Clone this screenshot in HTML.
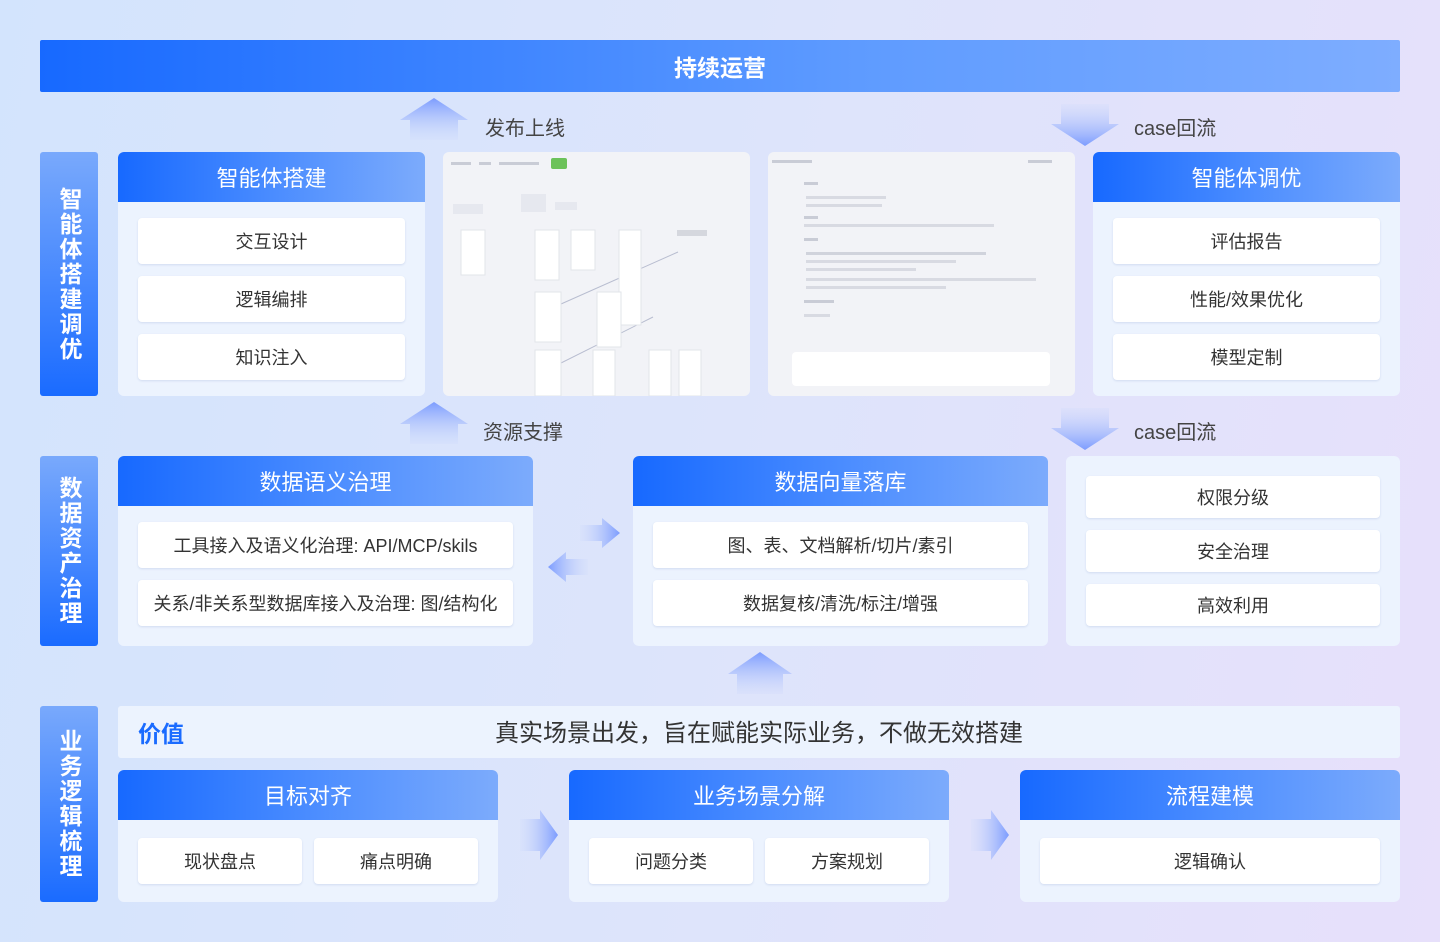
<!DOCTYPE html>
<html><head><meta charset="utf-8"><style>
*{margin:0;padding:0;box-sizing:border-box}
body{width:1440px;height:942px;overflow:hidden;font-family:"Liberation Sans","Noto Sans CJK SC",sans-serif;background:linear-gradient(100deg,#d3e4fd 0%,#dde4fb 50%,#e7e0fb 100%);position:relative}
.a{position:absolute}
.top{left:40px;top:40px;width:1360px;height:52px;background:linear-gradient(90deg,#1769ff,#5e9bff 60%,#7eadff);color:#fff;font-size:23px;font-weight:bold;text-align:center;line-height:56px;border-radius:2px}
.side{left:40px;width:58px;background:linear-gradient(180deg,#79a9fc,#1a6bff);border-radius:3px;color:#fff;font-size:23px;font-weight:bold;display:flex;align-items:center;justify-content:center;writing-mode:vertical-rl;text-orientation:upright;letter-spacing:2px}
.card{background:#ecf3fe;border-radius:6px;overflow:hidden}
.hd{height:50px;background:linear-gradient(90deg,#1769ff,#4a8cff 50%,#7cabfc);color:#fff;font-size:22px;text-align:center;line-height:54px}
.it{position:absolute;background:#fff;border-radius:4px;box-shadow:0 1px 2px rgba(60,90,160,.15);text-align:center;font-size:18px;color:#333;height:46px;line-height:48px;overflow:hidden}
.lbl{font-size:20px;color:#444}
.shot{background:#f2f3f7;border-radius:6px;overflow:hidden}
.bar{position:absolute;background:#c9ccd6;height:3px}
</style></head><body>
<div class="a top">持续运营</div>

<svg class="a" style="left:0;top:0" width="1440" height="942">
<defs>
<linearGradient id="gu" x1="0" y1="0" x2="0" y2="1"><stop offset="0" stop-color="#7c9cff"/><stop offset="1" stop-color="#c9d6fb" stop-opacity="0.2"/></linearGradient>
<linearGradient id="gd" x1="0" y1="1" x2="0" y2="0"><stop offset="0" stop-color="#7c9cff"/><stop offset="1" stop-color="#c9d6fb" stop-opacity="0.2"/></linearGradient>
<linearGradient id="gr" x1="0" y1="0" x2="1" y2="0"><stop offset="0" stop-color="#cfdafb" stop-opacity="0.2"/><stop offset="1" stop-color="#7c9cff"/></linearGradient>
<linearGradient id="gl" x1="1" y1="0" x2="0" y2="0"><stop offset="0" stop-color="#cfdafb" stop-opacity="0.2"/><stop offset="1" stop-color="#7c9cff"/></linearGradient>
</defs>
<polygon points="434,98 468,120 458,120 458,140 410,140 410,120 400,120" fill="url(#gu)"/>
<polygon points="434,402 468,424 458,424 458,444 410,444 410,424 400,424" fill="url(#gu)"/>
<polygon points="760,652 792,674 783,674 783,694 737,694 737,674 728,674" fill="url(#gu)"/>
<polygon points="1085,146 1051,124 1061,124 1061,104 1109,104 1109,124 1119,124" fill="url(#gd)"/>
<polygon points="1085,450 1051,428 1061,428 1061,408 1109,408 1109,428 1119,428" fill="url(#gd)"/>
<polygon points="620,533 602,518 602,525 580,525 580,541 602,541 602,548" fill="url(#gr)"/>
<polygon points="548,567 566,552 566,559 588,559 588,575 566,575 566,582" fill="url(#gl)"/>
<polygon points="558,835 540,810 540,819 520,819 520,851 540,851 540,860" fill="url(#gr)"/>
<polygon points="1009,835 991,810 991,819 971,819 971,851 991,851 991,860" fill="url(#gr)"/>
</svg>

<div class="a lbl" style="left:485px;top:112px">发布上线</div>
<div class="a lbl" style="left:1134px;top:112px">case回流</div>
<div class="a lbl" style="left:483px;top:416px">资源支撑</div>
<div class="a lbl" style="left:1134px;top:416px">case回流</div>

<div class="a side" style="top:152px;height:244px">智能体搭建调优</div>
<div class="a side" style="top:456px;height:190px">数据资产治理</div>
<div class="a side" style="top:706px;height:196px">业务逻辑梳理</div>

<div class="a card" style="left:118px;top:152px;width:307px;height:244px"><div class="hd">智能体搭建</div>
<div class="it" style="left:20px;top:66px;width:267px">交互设计</div>
<div class="it" style="left:20px;top:124px;width:267px">逻辑编排</div>
<div class="it" style="left:20px;top:182px;width:267px">知识注入</div></div>

<div class="a shot" style="left:443px;top:152px;width:307px;height:244px">
<div class="bar" style="left:8px;top:10px;width:20px"></div><div class="bar" style="left:36px;top:10px;width:12px"></div><div class="bar" style="left:56px;top:10px;width:40px"></div>
<div class="a" style="left:108px;top:6px;width:16px;height:11px;background:#6cc25a;border-radius:2px"></div>
<svg class="a" style="left:0;top:0" width="307" height="244"><g stroke="#b8bdd0" stroke-width="1"><line x1="100" y1="160" x2="235" y2="100"/><line x1="100" y1="220" x2="210" y2="165"/></g>
<g fill="#fff" stroke="#e2e4ea"><rect x="18" y="78" width="24" height="45"/><rect x="92" y="78" width="24" height="50"/><rect x="128" y="78" width="24" height="40"/><rect x="176" y="78" width="22" height="95"/><rect x="92" y="140" width="26" height="50"/><rect x="154" y="140" width="24" height="55"/><rect x="92" y="198" width="26" height="46"/><rect x="150" y="198" width="22" height="46"/><rect x="206" y="198" width="22" height="46"/><rect x="236" y="198" width="22" height="46"/></g>
<g fill="#e6e8ef"><rect x="10" y="52" width="30" height="10"/><rect x="78" y="42" width="25" height="18"/><rect x="112" y="50" width="22" height="8"/><rect x="234" y="78" width="30" height="6" fill="#d5d7de"/></g></svg>
</div>

<div class="a shot" style="left:768px;top:152px;width:307px;height:244px">
<div class="bar" style="left:4px;top:8px;width:40px"></div><div class="bar" style="left:260px;top:8px;width:24px"></div>
<div class="bar" style="left:36px;top:30px;width:14px"></div>
<div class="bar" style="left:38px;top:44px;width:80px;background:#d8dae2"></div><div class="bar" style="left:38px;top:52px;width:76px;background:#d8dae2"></div>
<div class="bar" style="left:36px;top:64px;width:14px"></div><div class="bar" style="left:36px;top:72px;width:190px;background:#d8dae2"></div>
<div class="bar" style="left:36px;top:86px;width:14px"></div>
<div class="bar" style="left:38px;top:100px;width:180px;background:#d0d3dc"></div><div class="bar" style="left:38px;top:108px;width:150px;background:#d8dae2"></div><div class="bar" style="left:38px;top:116px;width:110px;background:#d8dae2"></div><div class="bar" style="left:38px;top:126px;width:230px;background:#d8dae2"></div><div class="bar" style="left:38px;top:134px;width:140px;background:#d8dae2"></div>
<div class="bar" style="left:36px;top:148px;width:30px"></div><div class="bar" style="left:36px;top:162px;width:26px;background:#d8dae2"></div>
<div class="a" style="left:24px;top:200px;width:258px;height:34px;background:#fff;border-radius:4px"></div>
</div>

<div class="a card" style="left:1093px;top:152px;width:307px;height:244px"><div class="hd">智能体调优</div>
<div class="it" style="left:20px;top:66px;width:267px">评估报告</div>
<div class="it" style="left:20px;top:124px;width:267px">性能/效果优化</div>
<div class="it" style="left:20px;top:182px;width:267px">模型定制</div></div>

<div class="a card" style="left:118px;top:456px;width:415px;height:190px"><div class="hd">数据语义治理</div>
<div class="it" style="left:20px;top:66px;width:375px">工具接入及语义化治理: API/MCP/skils</div>
<div class="it" style="left:20px;top:124px;width:375px">关系/非关系型数据库接入及治理: 图/结构化</div></div>

<div class="a card" style="left:633px;top:456px;width:415px;height:190px"><div class="hd">数据向量落库</div>
<div class="it" style="left:20px;top:66px;width:375px">图、表、文档解析/切片/素引</div>
<div class="it" style="left:20px;top:124px;width:375px">数据复核/清洗/标注/增强</div></div>

<div class="a card" style="left:1066px;top:456px;width:334px;height:190px">
<div class="it" style="left:20px;top:20px;width:294px;height:42px;line-height:44px">权限分级</div>
<div class="it" style="left:20px;top:74px;width:294px;height:42px;line-height:44px">安全治理</div>
<div class="it" style="left:20px;top:128px;width:294px;height:42px;line-height:44px">高效利用</div></div>

<div class="a" style="left:118px;top:706px;width:1282px;height:52px;background:#ecf3fe;border-radius:3px">
<div class="a" style="left:20px;top:0;line-height:56px;font-size:23px;font-weight:bold;color:#1a6bff">价值</div>
<div style="text-align:center;line-height:56px;font-size:24px;color:#333">真实场景出发，旨在赋能实际业务，不做无效搭建</div></div>

<div class="a card" style="left:118px;top:770px;width:380px;height:132px"><div class="hd">目标对齐</div>
<div class="it" style="left:20px;top:68px;width:164px">现状盘点</div>
<div class="it" style="left:196px;top:68px;width:164px">痛点明确</div></div>
<div class="a card" style="left:569px;top:770px;width:380px;height:132px"><div class="hd">业务场景分解</div>
<div class="it" style="left:20px;top:68px;width:164px">问题分类</div>
<div class="it" style="left:196px;top:68px;width:164px">方案规划</div></div>
<div class="a card" style="left:1020px;top:770px;width:380px;height:132px"><div class="hd">流程建模</div>
<div class="it" style="left:20px;top:68px;width:340px">逻辑确认</div></div>
</body></html>
